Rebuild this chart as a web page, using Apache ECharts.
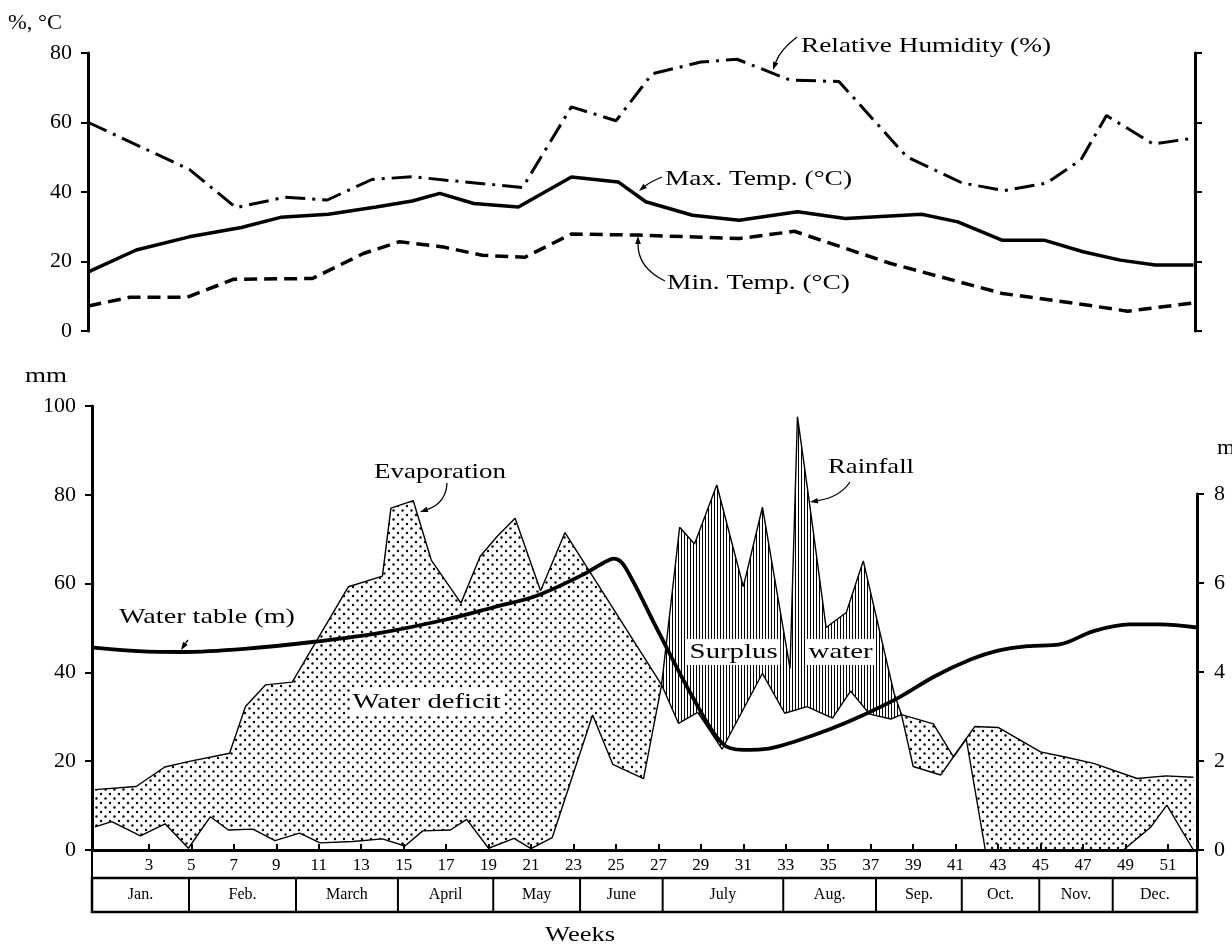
<!DOCTYPE html>
<html><head><meta charset="utf-8">
<script src="https://cdn.jsdelivr.net/npm/echarts@6/dist/echarts.min.js"></script>
<style>html,body{margin:0;padding:0;background:#fff}#c{width:1232px;height:950px}</style>
</head><body><div id="c"></div>
<script>
// ---------------- DATA ----------------
// Top panel: weekly climate (x = week number)
const rhWeek  = [0.15, 4.9, 7.1, 9.4, 11.4, 13.5, 15.4, 17.0, 20.6, 22.9, 25.0, 26.7, 29.0, 30.7, 33.2, 35.5, 38.7, 41.3, 43.3, 45.3, 46.9, 48.1, 50.3, 52.2];
const rhPct   = [60, 46.5, 35.5, 38.5, 37.7, 43.6, 44.4, 43.4, 41.3, 64.5, 60.5, 74, 77.4, 78.2, 72.2, 71.8, 50.1, 42.6, 40.4, 42.6, 49.3, 62, 53.8, 55.5];
const tmaxWeek = [0.15, 2.4, 4.9, 7.35, 9.2, 11.45, 13.7, 15.4, 16.7, 18.3, 20.4, 22.9, 25.1, 26.4, 28.6, 30.8, 33.55, 35.8, 39.4, 41.1, 43.2, 45.2, 47.0, 48.75, 50.4, 52.2];
const tmaxC    = [17.0, 23.3, 27.1, 29.8, 32.7, 33.6, 35.7, 37.4, 39.6, 36.7, 35.7, 44.3, 42.9, 37.2, 33.3, 31.9, 34.3, 32.4, 33.6, 31.4, 26.1, 26.1, 22.8, 20.4, 19.0, 19.0];
const tminWeek = [0.15, 2.1, 4.8, 7.0, 10.7, 13.1, 14.8, 16.85, 18.7, 20.7, 22.9, 26.1, 30.8, 33.4, 35.6, 37.9, 43.2, 46.6, 49.1, 52.2];
const tminC    = [7.2, 9.7, 9.7, 14.9, 15.1, 22.3, 25.7, 24.2, 21.8, 21.2, 27.9, 27.6, 26.6, 28.7, 24.2, 19.5, 10.8, 8.0, 5.7, 8.1];

// Bottom panel: evaporation and rainfall (mm), water table (m)
const evapWeek = [0.46, 2.4, 3.75, 4.85, 6.8, 7.55, 8.5, 9.75, 12.4, 14.0, 14.4, 15.45, 16.3, 17.7, 18.6, 19.4, 20.25, 21.45, 22.6, 27.15,
                  27.95, 28.85, 30.0, 31.9, 32.95, 34.0, 35.2, 36.05, 36.95, 37.95, 38.45,
                  39.95, 40.9, 41.9, 43.0, 45.0, 46.1, 47.5, 49.55, 50.9, 52.2];
const evapMm   = [13.6, 14.3, 18.7, 19.9, 21.8, 32.3, 37.2, 37.8, 59.3, 61.7, 77.0, 78.7, 65.3, 55.6, 66.1, 70.6, 74.7, 58.4, 71.5, 37.2,
                  28.5, 31.0, 22.7, 39.8, 30.8, 32.3, 29.7, 35.8, 30.6, 29.5, 30.5,
                  28.4, 21.0, 27.8, 27.6, 22.1, 21.0, 19.5, 16.1, 16.7, 16.4];
const rainWeek = [0.46, 1.25, 2.6, 3.76, 4.86, 5.9, 6.74, 7.9, 8.94, 10.1, 11.06, 12.6, 14.0, 15.06, 15.9, 17.2, 17.97, 19.0, 20.2, 21.0, 22.0,
                  23.9, 24.85, 26.3, 27.15, 28.0, 28.7, 29.75, 31.0, 31.9, 33.2, 33.55, 34.1, 34.9, 35.85, 36.65, 38.1, 38.45,
                  39.0, 40.3, 40.9, 41.5, 42.4, 48.9, 50.2, 50.95, 52.2];
const rainMm   = [5.2, 6.4, 3.2, 5.9, 0.4, 7.5, 4.5, 4.7, 2.1, 3.8, 1.6, 1.9, 2.5, 0.9, 4.3, 4.5, 6.9, 0.4, 2.6, 0.3, 2.8,
                  30.4, 19.3, 16.1, 37.2, 72.7, 68.9, 82.2, 59.3, 77.2, 40.9, 97.6, 78.7, 50.1, 53.5, 65.1, 35.3, 30.5,
                  18.8, 16.9, 21.0, 25.0, 0, 0, 5.2, 10.1, 0];
const wtWeek = [0.4, 2.5, 4.6, 7.5, 10.8, 13.9, 17.0, 19.2, 21.3, 23.5, 24.4, 24.9, 25.4, 26.9, 28.6, 30.0, 31.0, 32.2, 33.5, 35.1, 36.5, 38.3, 40.0, 41.7, 43.0, 44.4, 45.9, 47.5, 49.2, 50.6, 52.37];
const wtM    = [4.55, 4.47, 4.45, 4.52, 4.68, 4.88, 5.18, 5.45, 5.72, 6.2, 6.45, 6.55, 6.38, 5.0, 3.45, 2.4, 2.25, 2.28, 2.45, 2.72, 3.0, 3.42, 3.9, 4.28, 4.48, 4.58, 4.62, 4.92, 5.07, 5.07, 5.0];

// Axis ticks and calendar
const weekTicks  = [3,5,7,9,11,13,15,17,19,21,23,25,27,29,31,33,35,37,39,41,43,45,47,49,51];
const monthNames = ['Jan.','Feb.','March','April','May','June','July','Aug.','Sep.','Oct.','Nov.','Dec.'];
const monthEdges = [0.32, 4.89, 9.93, 14.73, 19.22, 23.31, 27.2, 32.88, 37.25, 41.29, 44.94, 48.4, 52.37];

// ---------------- helpers ----------------
const FONT = "'Liberation Serif','DejaVu Serif','Times New Roman',serif";
const zip = (a, b) => a.map((x, i) => [x, b[i]]);

function dotPattern() {
  const c = document.createElement('canvas'); c.width = 9; c.height = 9;
  const g = c.getContext('2d'); g.fillStyle = '#000';
  [[2, 2], [6.5, 6.5]].forEach(([x, y]) => { g.beginPath(); g.arc(x, y, 1.2, 0, Math.PI * 2); g.fill(); });
  return { image: c, repeat: 'repeat' };
}
function hatchPattern() {
  const c = document.createElement('canvas'); c.width = 3; c.height = 4;
  const g = c.getContext('2d'); g.fillStyle = '#000'; g.fillRect(0, 0, 1, 4);
  return { image: c, repeat: 'repeat' };
}
const DOTS = dotPattern(), HATCH = hatchPattern();

function interp(xs, ys, x) {
  for (let i = 0; i < xs.length - 1; i++) {
    if (x >= xs[i] && x <= xs[i + 1]) {
      const d = xs[i + 1] - xs[i];
      const t = d === 0 ? 0 : (x - xs[i]) / d;
      return ys[i] + t * (ys[i + 1] - ys[i]);
    }
  }
  return null;
}

function buildRuns() {
  const lo = Math.max(evapWeek[0], rainWeek[0]);
  const hi = Math.min(evapWeek[evapWeek.length - 1], rainWeek[rainWeek.length - 1]);
  const xs = Array.from(new Set(evapWeek.concat(rainWeek))).filter(x => x >= lo && x <= hi).sort((a, b) => a - b);
  const pts = xs.map(x => ({ x, e: interp(evapWeek, evapMm, x), r: interp(rainWeek, rainMm, x) }));
  const ext = [pts[0]];
  for (let i = 1; i < pts.length; i++) {
    const a = pts[i - 1], b = pts[i];
    const da = a.e - a.r, db = b.e - b.r;
    if (da * db < 0) {
      const t = da / (da - db);
      const x = a.x + t * (b.x - a.x);
      const y = a.e + t * (b.e - a.e);
      ext.push({ x, e: y, r: y });
    }
    ext.push(b);
  }
  const runs = []; let cur = null; let lastZero = null;
  ext.forEach(p => {
    const d = p.e - p.r;
    const s = d > 1e-9 ? 1 : (d < -1e-9 ? -1 : 0);
    if (s === 0) {
      if (cur) { cur.pts.push(p); runs.push(cur); cur = null; }
      lastZero = p;
    } else {
      if (!cur || cur.s !== s) {
        if (cur) runs.push(cur);
        cur = { s, pts: lastZero ? [lastZero] : [] };
      }
      cur.pts.push(p);
      lastZero = null;
    }
  });
  if (cur) runs.push(cur);
  return runs;
}
const RUNS = buildRuns();

const mctx = document.createElement('canvas').getContext('2d');
function label(text, x0, x1, cy, size, bg) {
  const font = size + 'px ' + FONT;
  mctx.font = font;
  const w = mctx.measureText(text).width;
  const sx = (x1 - x0) / w;
  const st = { text, font, fill: '#000', align: 'left', verticalAlign: 'middle', textAlign: 'left', textVerticalAlign: 'middle' };
  if (bg) { st.backgroundColor = '#fff'; st.padding = [2, 2, 2, 2]; }
  return { type: 'text', x: x0, y: cy, scaleX: sx, z: 100, style: st };
}
function leader(x1, y1, cx, cy, x2, y2) {
  let dx = x2 - cx, dy = y2 - cy; const L = Math.hypot(dx, dy) || 1; dx /= L; dy /= L;
  const bx = x2 - dx * 8, by = y2 - dy * 8, px = -dy * 2.8, py = dx * 2.8;
  return [
    { type: 'bezierCurve', z: 100, shape: { x1, y1, x2: bx, y2: by, cpx1: cx, cpy1: cy }, style: { stroke: '#000', lineWidth: 1.3, fill: null } },
    { type: 'polygon', z: 100, shape: { points: [[x2, y2], [bx + px, by + py], [bx - px, by - py]] }, style: { fill: '#000' } }
  ];
}

// ---------------- chart ----------------
const chart = echarts.init(document.getElementById('c'), null, { renderer: 'canvas' });
const axisLineStyle = { color: '#000', width: 3 };
const labelStyle = { color: '#000', fontFamily: FONT };

const option = {
  animation: false,
  backgroundColor: '#fff',
  textStyle: { fontFamily: FONT, color: '#000' },
  grid: [
    { left: 88, top: 53, width: 1107, height: 278, outerBoundsMode: 'none' },   // climate panel
    { left: 92, top: 406, width: 1105, height: 444, outerBoundsMode: 'none' },  // mm panel
    { left: 92, top: 494, width: 1105, height: 356, outerBoundsMode: 'none' },  // water table (m) 0..8
    { left: 92, top: 850, width: 1105, height: 28, show: true, borderColor: '#000', borderWidth: 2, outerBoundsMode: 'none' },
    { left: 92, top: 878, width: 1105, height: 34, show: true, borderColor: '#000', borderWidth: 2.5, outerBoundsMode: 'none' }
  ],
  xAxis: [
    { gridIndex: 0, type: 'value', min: 0.13, max: 52.27, show: false },
    { gridIndex: 1, type: 'value', min: 0.32, max: 52.37,
      axisLine: { show: true, onZero: false, lineStyle: axisLineStyle },
      axisTick: { show: true, inside: true, length: 6, customValues: weekTicks, lineStyle: { color: '#000', width: 2 } },
      axisLabel: { show: true, customValues: weekTicks, margin: 7, fontSize: 17, ...labelStyle },
      splitLine: { show: false } },
    { gridIndex: 2, type: 'value', min: 0.32, max: 52.37, show: false },
    { gridIndex: 3, type: 'value', min: 0.32, max: 52.37, show: false },
    { gridIndex: 4, type: 'value', min: 0.32, max: 52.37, show: false }
  ],
  yAxis: [
    { gridIndex: 0, type: 'value', min: 0, max: 80, interval: 20, position: 'left',
      axisLine: { show: true, lineStyle: axisLineStyle },
      axisTick: { show: true, length: 7, lineStyle: { color: '#000', width: 2 } },
      axisLabel: { margin: 16, fontSize: 22, ...labelStyle }, splitLine: { show: false } },
    { gridIndex: 0, type: 'value', min: 0, max: 80, interval: 20, position: 'right',
      axisLine: { show: true, lineStyle: axisLineStyle },
      axisTick: { show: true, length: 7, lineStyle: { color: '#000', width: 2 } },
      axisLabel: { show: false }, splitLine: { show: false } },
    { gridIndex: 1, type: 'value', min: 0, max: 100, interval: 20, position: 'left',
      axisLine: { show: true, lineStyle: axisLineStyle },
      axisTick: { show: true, length: 7, lineStyle: { color: '#000', width: 2 } },
      axisLabel: { margin: 16, fontSize: 22, ...labelStyle }, splitLine: { show: false } },
    { gridIndex: 2, type: 'value', min: 0, max: 8, interval: 2, position: 'right',
      axisLine: { show: true, lineStyle: axisLineStyle },
      axisTick: { show: true, length: 7, lineStyle: { color: '#000', width: 2 } },
      axisLabel: { margin: 17, fontSize: 22, ...labelStyle }, splitLine: { show: false } },
    { gridIndex: 3, type: 'value', min: 0, max: 1, show: false },
    { gridIndex: 4, type: 'value', min: 0, max: 1, show: false }
  ],
  series: [
    { name: 'Relative Humidity (%)', type: 'line', xAxisIndex: 0, yAxisIndex: 0, data: zip(rhWeek, rhPct),
      symbol: 'none', lineStyle: { color: '#000', width: 3, type: [20, 7, 3, 7] } },
    { name: 'Max. Temp. (°C)', type: 'line', xAxisIndex: 0, yAxisIndex: 0, data: zip(tmaxWeek, tmaxC),
      symbol: 'none', lineStyle: { color: '#000', width: 3.5 } },
    { name: 'Min. Temp. (°C)', type: 'line', xAxisIndex: 0, yAxisIndex: 0, data: zip(tminWeek, tminC),
      symbol: 'none', lineStyle: { color: '#000', width: 3.5, type: [13, 7] } },
    { name: 'fill', type: 'custom', xAxisIndex: 1, yAxisIndex: 2, data: [[0, 0]], silent: true, z: 1,
      renderItem: function (params, api) {
        if (params.dataIndex !== 0) return;
        const children = RUNS.filter(r => r.pts.length >= 2).map(run => {
          const up = run.pts.map(p => api.coord([p.x, Math.max(p.e, p.r)]));
          const dn = run.pts.map(p => api.coord([p.x, Math.min(p.e, p.r)])).reverse();
          return { type: 'polygon', shape: { points: up.concat(dn) }, style: { fill: run.s > 0 ? DOTS : HATCH, stroke: null } };
        });
        return { type: 'group', children };
      } },
    { name: 'Evaporation', type: 'line', xAxisIndex: 1, yAxisIndex: 2, data: zip(evapWeek, evapMm), z: 3,
      symbol: 'none', lineStyle: { color: '#000', width: 1.4 } },
    { name: 'Rainfall', type: 'line', xAxisIndex: 1, yAxisIndex: 2, data: zip(rainWeek, rainMm), z: 3,
      symbol: 'none', lineStyle: { color: '#000', width: 1.4 } },
    { name: 'Water table (m)', type: 'line', xAxisIndex: 2, yAxisIndex: 3, data: zip(wtWeek, wtM), z: 4,
      symbol: 'none', smooth: 0.35, lineStyle: { color: '#000', width: 3.8 } },
    { name: 'months', type: 'custom', xAxisIndex: 4, yAxisIndex: 5, silent: true,
      data: monthNames.map((n, i) => [monthEdges[i], monthEdges[i + 1]]),
      renderItem: function (params, api) {
        const i = params.dataIndex;
        const a = api.coord([api.value(0), 0]);
        const b = api.coord([api.value(1), 0]);
        const top = params.coordSys.y, h = params.coordSys.height;
        const ch = [];
        if (i > 0) ch.push({ type: 'line', shape: { x1: a[0], y1: top, x2: a[0], y2: top + h }, style: { stroke: '#000', lineWidth: 2 } });
        ch.push({ type: 'text', x: (a[0] + b[0]) / 2, y: top + h / 2,
          style: { text: monthNames[i], font: '16px ' + FONT, fill: '#000', align: 'center', verticalAlign: 'middle', textAlign: 'center', textVerticalAlign: 'middle' } });
        return { type: 'group', children: ch };
      } }
  ],
  graphic: [
    label('%, °C', 8, 62, 24, 20),
    label('Relative Humidity (%)', 801, 1051, 46, 22),
    label('Max. Temp. (°C)', 665, 852, 179, 22),
    label('Min. Temp. (°C)', 667, 850, 283, 22),
    label('mm', 25, 67, 376, 22),
    label('Evaporation', 374, 506, 472, 22),
    label('Water table (m)', 119, 295, 617, 22),
    label('Water deficit', 350, 498, 702, 22, true),
    label('Rainfall', 828, 914, 467, 22),
    label('Surplus', 687, 775, 652, 22, true),
    label('water', 806, 870, 652, 22, true),
    label('m', 1217, 1235, 448, 22),
    label('Weeks', 545, 615, 935, 22),
    ...leader(797, 37, 780, 50, 773, 70),
    ...leader(662, 177, 650, 182, 639, 191),
    ...leader(665, 281, 638, 268, 638, 236),
    ...leader(447, 483, 446, 503, 420, 512),
    ...leader(850, 482, 840, 497, 810, 502),
    ...leader(188, 640, 185, 644, 181, 650)
  ]
};
chart.setOption(option);
</script>
</body></html>
